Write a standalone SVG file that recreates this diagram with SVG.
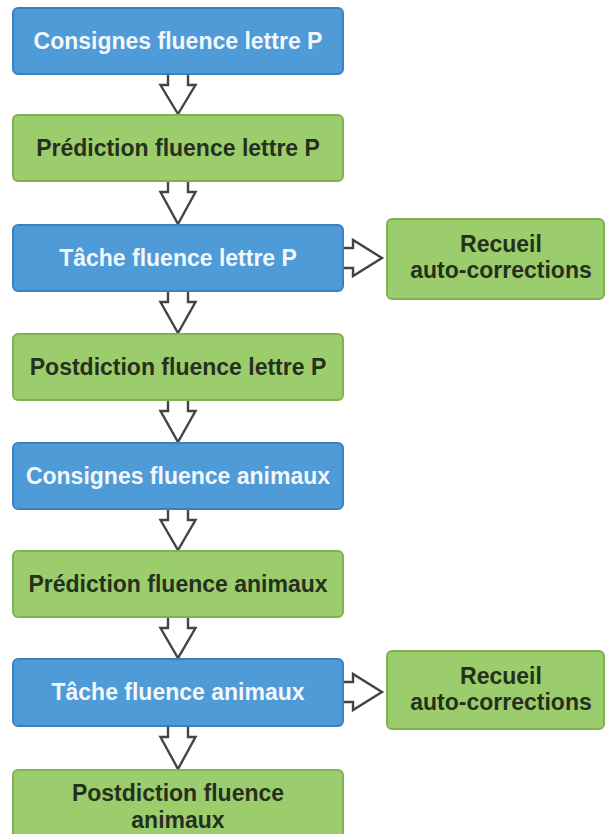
<svg xmlns="http://www.w3.org/2000/svg" width="606" height="834" viewBox="0 0 606 834">
  <style>
    .blue rect { fill: #4f9bd8; stroke: #3c80c2; stroke-width: 2; }
    .green rect { fill: #9ccd6c; stroke: #80b254; stroke-width: 2; }
    text { font-family: "Liberation Sans", Arial, sans-serif; font-weight: bold; font-size: 23px; text-anchor: middle; }
    .blue text { fill: #f2f7fc; }
    .green text { fill: #26301e; }
    .arrow { fill: #ffffff; stroke: #444444; stroke-width: 2.4; stroke-linejoin: miter; }
  </style>

  <rect x="0" y="0" width="606" height="834" fill="#ffffff"/>

  <!-- hollow block arrows -->
  <g id="connectors">
    <path class="arrow" d="M168,74 V85 H160.5 L178,114 L195.5,85 H188 V74"/>
    <path class="arrow" d="M168,181 V192 H160.5 L178,224 L195.5,192 H188 V181"/>
    <path class="arrow" d="M168,291 V302 H160.5 L178,333 L195.5,302 H188 V291"/>
    <path class="arrow" d="M168,400 V411 H160.5 L178,442 L195.5,411 H188 V400"/>
    <path class="arrow" d="M168,509 V520 H160.5 L178,550 L195.5,520 H188 V509"/>
    <path class="arrow" d="M168,617 V628 H160.5 L178,658 L195.5,628 H188 V617"/>
    <path class="arrow" d="M168,726 V737 H160.5 L178,769 L195.5,737 H188 V726"/>
    <path class="arrow" d="M343,248 H353 V240 L382,258 L353,276 V268 H343"/>
    <path class="arrow" d="M343,682 H353 V674 L382,692 L353,710 V702 H343"/>
  </g>

  <g id="n1" class="blue">
    <rect x="13" y="8" width="330" height="66" rx="5"/>
    <text x="178" y="49">Consignes fluence lettre P</text>
  </g>
  <g id="n2" class="green">
    <rect x="13" y="115" width="330" height="66" rx="5"/>
    <text x="178" y="156">Prédiction fluence lettre P</text>
  </g>
  <g id="n3" class="blue">
    <rect x="13" y="225" width="330" height="66" rx="5"/>
    <text x="178" y="266">Tâche fluence lettre P</text>
  </g>
  <g id="n3b" class="green">
    <rect x="387" y="219" width="217" height="80" rx="5"/>
    <text x="501" y="252">Recueil</text>
    <text x="501" y="278">auto-corrections</text>
  </g>
  <g id="n4" class="green">
    <rect x="13" y="334" width="330" height="66" rx="5"/>
    <text x="178" y="375">Postdiction fluence lettre P</text>
  </g>
  <g id="n5" class="blue">
    <rect x="13" y="443" width="330" height="66" rx="5"/>
    <text x="178" y="484">Consignes fluence animaux</text>
  </g>
  <g id="n6" class="green">
    <rect x="13" y="551" width="330" height="66" rx="5"/>
    <text x="178" y="592">Prédiction fluence animaux</text>
  </g>
  <g id="n7" class="blue">
    <rect x="13" y="659" width="330" height="67" rx="5"/>
    <text x="178" y="700">Tâche fluence animaux</text>
  </g>
  <g id="n7b" class="green">
    <rect x="387" y="651" width="217" height="78" rx="5"/>
    <text x="501" y="684">Recueil</text>
    <text x="501" y="710">auto-corrections</text>
  </g>
  <g id="n8" class="green">
    <rect x="13" y="770" width="330" height="80" rx="5"/>
    <text x="178" y="801">Postdiction fluence</text>
    <text x="178" y="828">animaux</text>
  </g>
</svg>
